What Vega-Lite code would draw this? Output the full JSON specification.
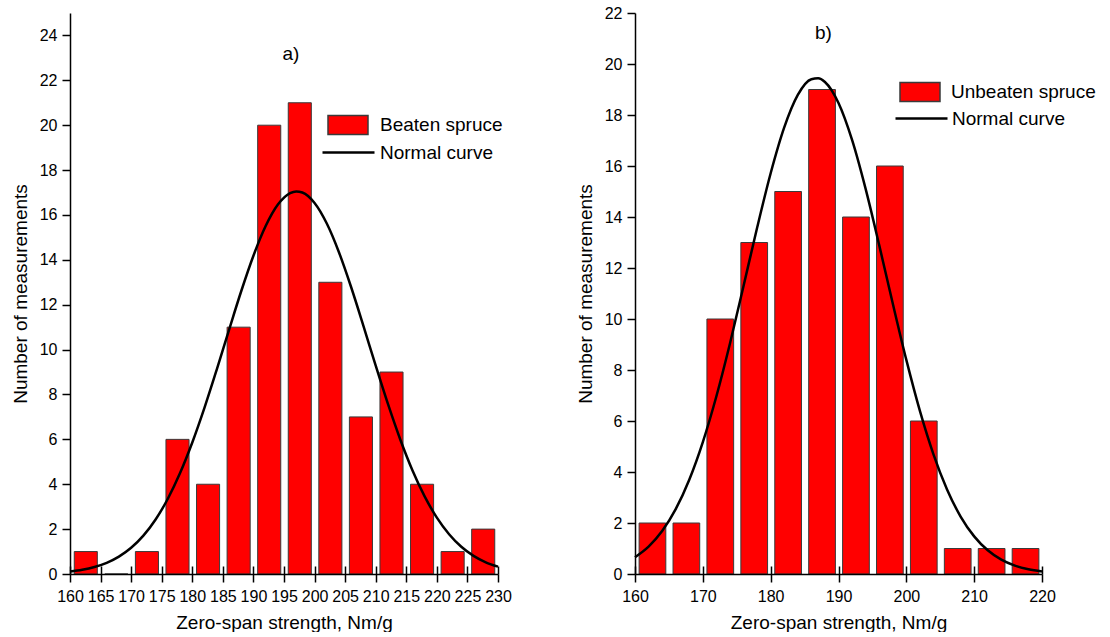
{
  "$schema": "https://vega.github.io/schema/vega-lite/v6.json",
  "padding": {"left": 11, "top": 5, "right": 5, "bottom": 0},
  "background": "white",
  "datasets": {
    "beaten": [
      {"start": 160, "end": 165, "count": 1},
      {"start": 165, "end": 170, "count": 0},
      {"start": 170, "end": 175, "count": 1},
      {"start": 175, "end": 180, "count": 6},
      {"start": 180, "end": 185, "count": 4},
      {"start": 185, "end": 190, "count": 11},
      {"start": 190, "end": 195, "count": 20},
      {"start": 195, "end": 200, "count": 21},
      {"start": 200, "end": 205, "count": 13},
      {"start": 205, "end": 210, "count": 7},
      {"start": 210, "end": 215, "count": 9},
      {"start": 215, "end": 220, "count": 4},
      {"start": 220, "end": 225, "count": 1},
      {"start": 225, "end": 230, "count": 2}
    ],
    "unbeaten": [
      {"start": 160, "end": 165, "count": 2},
      {"start": 165, "end": 170, "count": 2},
      {"start": 170, "end": 175, "count": 10},
      {"start": 175, "end": 180, "count": 13},
      {"start": 180, "end": 185, "count": 15},
      {"start": 185, "end": 190, "count": 19},
      {"start": 190, "end": 195, "count": 14},
      {"start": 195, "end": 200, "count": 16},
      {"start": 200, "end": 205, "count": 6},
      {"start": 205, "end": 210, "count": 1},
      {"start": 210, "end": 215, "count": 1},
      {"start": 215, "end": 220, "count": 1}
    ],
    "beatenCurve": [
      {"x": 160, "y": 0.112}, {"x": 162, "y": 0.189}, {"x": 164, "y": 0.312},
      {"x": 166, "y": 0.498}, {"x": 168, "y": 0.774}, {"x": 170, "y": 1.167},
      {"x": 172, "y": 1.708}, {"x": 174, "y": 2.428}, {"x": 176, "y": 3.354},
      {"x": 178, "y": 4.498}, {"x": 180, "y": 5.86}, {"x": 182, "y": 7.414},
      {"x": 184, "y": 9.11}, {"x": 186, "y": 10.871}, {"x": 188, "y": 12.6},
      {"x": 190, "y": 14.182}, {"x": 192, "y": 15.505}, {"x": 194, "y": 16.462},
      {"x": 196, "y": 16.975}, {"x": 197, "y": 17.05}, {"x": 198, "y": 17.0},
      {"x": 200, "y": 16.534}, {"x": 202, "y": 15.618}, {"x": 204, "y": 14.329},
      {"x": 206, "y": 12.767}, {"x": 208, "y": 11.048}, {"x": 210, "y": 9.284},
      {"x": 212, "y": 7.579}, {"x": 214, "y": 6.007}, {"x": 216, "y": 4.625},
      {"x": 218, "y": 3.458}, {"x": 220, "y": 2.511}, {"x": 222, "y": 1.772},
      {"x": 224, "y": 1.213}, {"x": 226, "y": 0.807}, {"x": 228, "y": 0.521},
      {"x": 230, "y": 0.327}
    ],
    "unbeatenCurve": [
      {"x": 160, "y": 0.658}, {"x": 162, "y": 1.073}, {"x": 164, "y": 1.683},
      {"x": 166, "y": 2.541}, {"x": 168, "y": 3.696}, {"x": 170, "y": 5.172},
      {"x": 172, "y": 6.969}, {"x": 174, "y": 9.04}, {"x": 176, "y": 11.293},
      {"x": 178, "y": 13.576}, {"x": 180, "y": 15.716}, {"x": 182, "y": 17.513},
      {"x": 184, "y": 18.789}, {"x": 186, "y": 19.405}, {"x": 187, "y": 19.44},
      {"x": 188, "y": 19.294}, {"x": 190, "y": 18.47}, {"x": 192, "y": 17.021},
      {"x": 194, "y": 15.101}, {"x": 196, "y": 12.897}, {"x": 198, "y": 10.606},
      {"x": 200, "y": 8.395}, {"x": 202, "y": 6.397}, {"x": 204, "y": 4.693},
      {"x": 206, "y": 3.316}, {"x": 208, "y": 2.254}, {"x": 210, "y": 1.476},
      {"x": 212, "y": 0.93}, {"x": 214, "y": 0.564}, {"x": 216, "y": 0.33},
      {"x": 218, "y": 0.185}, {"x": 220, "y": 0.1}
    ]
  },
  "hconcat": [
    {
      "width": 428,
      "height": 561,
      "title": {"text": "a)", "anchor": "middle", "frame": "group", "offset": 0, "dx": 7, "dy": 60, "baseline": "middle", "fontSize": 19, "fontWeight": "normal", "font": "Liberation Sans", "color": "black"},
      "layer": [
        {
          "data": {"name": "beaten"},
          "mark": {"type": "bar", "binSpacing": 7.5, "stroke": "#3a3a3a", "strokeWidth": 1},
          "encoding": {
            "x": {"field": "start", "type": "quantitative", "bin": {"binned": true, "step": 5},
              "scale": {"domain": [160, 230], "nice": false, "zero": false},
              "axis": {"title": "Zero-span strength, Nm/g",
                "values": [160,162.5,165,167.5,170,172.5,175,177.5,180,182.5,185,187.5,190,192.5,195,197.5,200,202.5,205,207.5,210,212.5,215,217.5,220,222.5,225,227.5,230],
                "labelExpr": "datum.value % 5 === 0 ? datum.label : ''",
                "tickSize": {"condition": {"test": "datum.value % 5 !== 0", "value": 4}, "value": 8},
                "labelPadding": 6, "titlePadding": 11, "minExtent": 28, "maxExtent": 28,
                "grid": true, "gridColor": "black", "gridWidth": 1.5, "gridDash": [8, 553], "gridDashOffset": 8,
                "gridOpacity": {"condition": {"test": "datum.value % 5 !== 0", "value": 0}, "value": 1}, "zindex": 1}},
            "x2": {"field": "end"},
            "y": {"field": "count", "type": "quantitative",
              "scale": {"domain": [0, 25], "nice": false},
              "axis": {"title": "Number of measurements", "values": [0,1,2,3,4,5,6,7,8,9,10,11,12,13,14,15,16,17,18,19,20,21,22,23,24,25],
                "labelExpr": "datum.value % 2 === 0 ? datum.label : ''",
                "tickSize": {"condition": {"test": "datum.value % 2 === 1", "value": 4}, "value": 8},
                "labelPadding": 5, "minExtent": 36, "maxExtent": 36, "titlePadding": 4, "grid": false, "zindex": 1}},
            "fill": {"datum": "Beaten spruce", "type": "nominal", "scale": {"range": ["#ff0000"]},
              "legend": {"orient": "none", "legendX": 257, "legendY": 91, "title": null,
                "symbolType": "M-1,-0.475H1V0.475H-1Z", "symbolSize": 1600, "labelOffset": 11, "padding": 0,
                "encode": {"symbols": {"update": {"stroke": {"value": "#3a3a3a"}, "strokeWidth": {"value": 1}, "fill": {"value": "#ff0000"}, "opacity": {"value": 1}}}}}}
          }
        },
        {
          "data": {"name": "beatenCurve"},
          "mark": {"type": "line", "interpolate": "monotone", "strokeWidth": 2.5},
          "encoding": {
            "x": {"field": "x", "type": "quantitative", "scale": {"domain": [160, 230], "nice": false, "zero": false}},
            "y": {"field": "y", "type": "quantitative", "scale": {"domain": [0, 25], "nice": false}},
            "stroke": {"datum": "Normal curve", "type": "nominal", "scale": {"range": ["#000000"]},
              "legend": {"orient": "none", "legendX": 251, "legendY": 112, "title": null,
                "symbolType": "stroke", "symbolSize": 2704, "symbolStrokeWidth": 2.5, "symbolStrokeColor": "black", "labelOffset": 4, "padding": 0}}
          }
        }
      ]
    },
    {
      "width": 407,
      "height": 561,
      "title": {"text": "b)", "anchor": "middle", "frame": "group", "offset": 0, "dx": -15, "dy": 47, "baseline": "middle", "fontSize": 19, "fontWeight": "normal", "font": "Liberation Sans", "color": "black"},
      "layer": [
        {
          "data": {"name": "unbeaten"},
          "mark": {"type": "bar", "binSpacing": 7.2, "stroke": "#3a3a3a", "strokeWidth": 1},
          "encoding": {
            "x": {"field": "start", "type": "quantitative", "bin": {"binned": true, "step": 5},
              "scale": {"domain": [160, 220], "nice": false, "zero": false},
              "axis": {"title": "Zero-span strength, Nm/g", "values": [160,170,180,190,200,210,220],
                "tickSize": 8, "labelPadding": 6, "titlePadding": 11, "minExtent": 28, "maxExtent": 28,
                "grid": true, "gridColor": "black", "gridWidth": 1.5, "gridDash": [8, 553], "gridDashOffset": 8, "zindex": 1}},
            "x2": {"field": "end"},
            "y": {"field": "count", "type": "quantitative",
              "scale": {"domain": [0, 22], "nice": false},
              "axis": {"title": "Number of measurements", "values": [0,2,4,6,8,10,12,14,16,18,20,22],
                "tickSize": 8, "labelPadding": 5, "minExtent": 36, "maxExtent": 36, "titlePadding": 4, "grid": false, "zindex": 1}},
            "fill": {"datum": "Unbeaten spruce", "type": "nominal", "scale": {"range": ["#ff0000"]},
              "legend": {"orient": "none", "legendX": 264, "legendY": 58, "title": null,
                "symbolType": "M-1,-0.475H1V0.475H-1Z", "symbolSize": 1600, "labelOffset": 10, "padding": 0,
                "encode": {"symbols": {"update": {"stroke": {"value": "#3a3a3a"}, "strokeWidth": {"value": 1}, "fill": {"value": "#ff0000"}, "opacity": {"value": 1}}}}}}
          }
        },
        {
          "data": {"name": "unbeatenCurve"},
          "mark": {"type": "line", "interpolate": "monotone", "strokeWidth": 2.5},
          "encoding": {
            "x": {"field": "x", "type": "quantitative", "scale": {"domain": [160, 220], "nice": false, "zero": false}},
            "y": {"field": "y", "type": "quantitative", "scale": {"domain": [0, 22], "nice": false}},
            "stroke": {"datum": "Normal curve", "type": "nominal", "scale": {"range": ["#000000"]},
              "legend": {"orient": "none", "legendX": 259, "legendY": 78, "title": null,
                "symbolType": "stroke", "symbolSize": 2704, "symbolStrokeWidth": 2.5, "symbolStrokeColor": "black", "labelOffset": 3, "padding": 0}}
          }
        }
      ]
    }
  ],
  "spacing": 137,
  "bounds": "flush",
  "resolve": {"scale": {"fill": "independent", "stroke": "independent"}, "legend": {"fill": "independent", "stroke": "independent"}},
  "config": {
    "view": {"stroke": null},
    "font": "Liberation Sans",
    "axis": {
      "domainColor": "black", "domainWidth": 1.5, "tickColor": "black", "tickWidth": 1.5,
      "labelFont": "Liberation Sans", "labelFontSize": 16, "labelColor": "black",
      "titleFont": "Liberation Sans", "titleFontSize": 19, "titleFontWeight": "normal", "titleColor": "black",
      "labelFlush": false, "labelOverlap": false
    },
    "legend": {"labelFont": "Liberation Sans", "labelFontSize": 19, "labelColor": "black", "labelLimit": 300}
  }
}
